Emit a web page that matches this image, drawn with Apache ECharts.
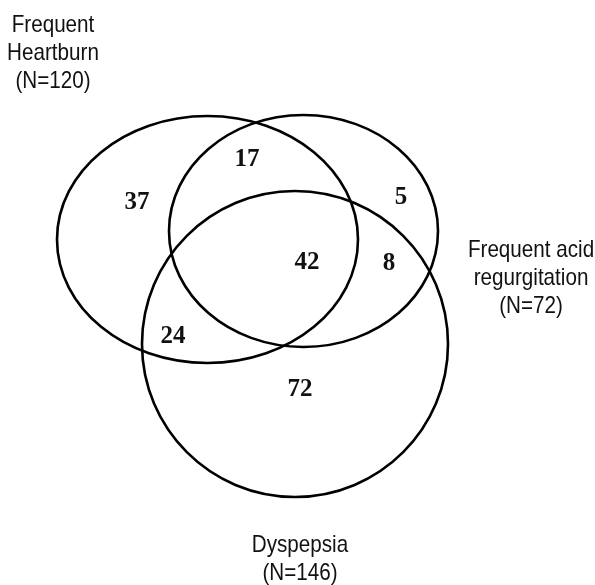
<!DOCTYPE html>
<html>
<head>
<meta charset="utf-8">
<script src="https://cdn.jsdelivr.net/npm/echarts@6/dist/echarts.min.js"></script>
<style>
html,body{margin:0;padding:0;background:#fff;}
#chart{width:595px;height:585px;}
</style>
</head>
<body>
<div id="chart"></div>
<script>
// ---- data ----
const setNames = ['Frequent\nHeartburn', 'Frequent acid\nregurgitation', 'Dyspepsia'];
const setSizes = [120, 72, 146];
const regionNames = ['Heartburn only', 'Heartburn & Regurgitation', 'Regurgitation only',
  'All three', 'Regurgitation & Dyspepsia', 'Heartburn & Dyspepsia', 'Dyspepsia only'];
const regionCounts = [37, 17, 5, 42, 8, 24, 72];

// ---- layout (diagram coordinates) ----
const setShapes = [[207.5, 239.5, 150.5, 123.5], [303.5, 231, 134.5, 116], [295, 344, 153, 153]];
const setLabelPos = [[53, 53], [531, 278], [300, 559]];
const regionPos = [[137, 203], [247, 160], [401, 198], [307, 263], [389, 264], [173, 337], [300, 390]];

const chart = echarts.init(document.getElementById('chart'), null, {renderer: 'canvas'});

const ellipseData = setShapes.map((s, i) => ({name: setNames[i], value: s}));
const regionData = regionCounts.map((c, i) => ({name: regionNames[i], value: [regionPos[i][0], regionPos[i][1], c]}));
const setLabelData = setNames.map((n, i) => ({name: n, value: [setLabelPos[i][0], setLabelPos[i][1], setSizes[i]]}));

chart.setOption({
  backgroundColor: '#ffffff',
  animation: false,
  grid: {left: 0, right: 0, top: 0, bottom: 0},
  xAxis: {type: 'value', min: 0, max: 595, show: false},
  yAxis: {type: 'value', min: 0, max: 585, inverse: true, show: false},
  series: [
    {
      type: 'custom',
      data: ellipseData,
      renderItem: function (params, api) {
        const c = api.coord([api.value(0), api.value(1)]);
        const sz = api.size([api.value(2), api.value(3)]);
        return {
          type: 'ellipse',
          shape: {cx: c[0], cy: c[1], rx: sz[0], ry: sz[1]},
          style: {fill: 'none', stroke: '#000', lineWidth: 2.6}
        };
      }
    },
    {
      type: 'custom',
      data: regionData,
      renderItem: function (params, api) {
        const c = api.coord([api.value(0), api.value(1)]);
        return {
          type: 'text',
          x: c[0], y: c[1],
          style: {
            text: String(api.value(2)),
            fontFamily: "'Liberation Serif', 'DejaVu Serif', serif",
            fontWeight: 'bold',
            fontSize: 25,
            fill: '#111',
            align: 'center',
            verticalAlign: 'middle'
          }
        };
      }
    },
    {
      type: 'custom',
      data: setLabelData,
      renderItem: function (params, api) {
        const c = api.coord([api.value(0), api.value(1)]);
        return {
          type: 'text',
          x: c[0], y: c[1],
          scaleX: 0.86,
          style: {
            text: setNames[params.dataIndex] + '\n(N=' + api.value(2) + ')',
            fontFamily: "'Liberation Sans', Arial, sans-serif",
            fontSize: 24,
            lineHeight: 28,
            fill: '#111',
            align: 'center',
            verticalAlign: 'middle'
          }
        };
      }
    }
  ]
});
</script>
</body>
</html>
